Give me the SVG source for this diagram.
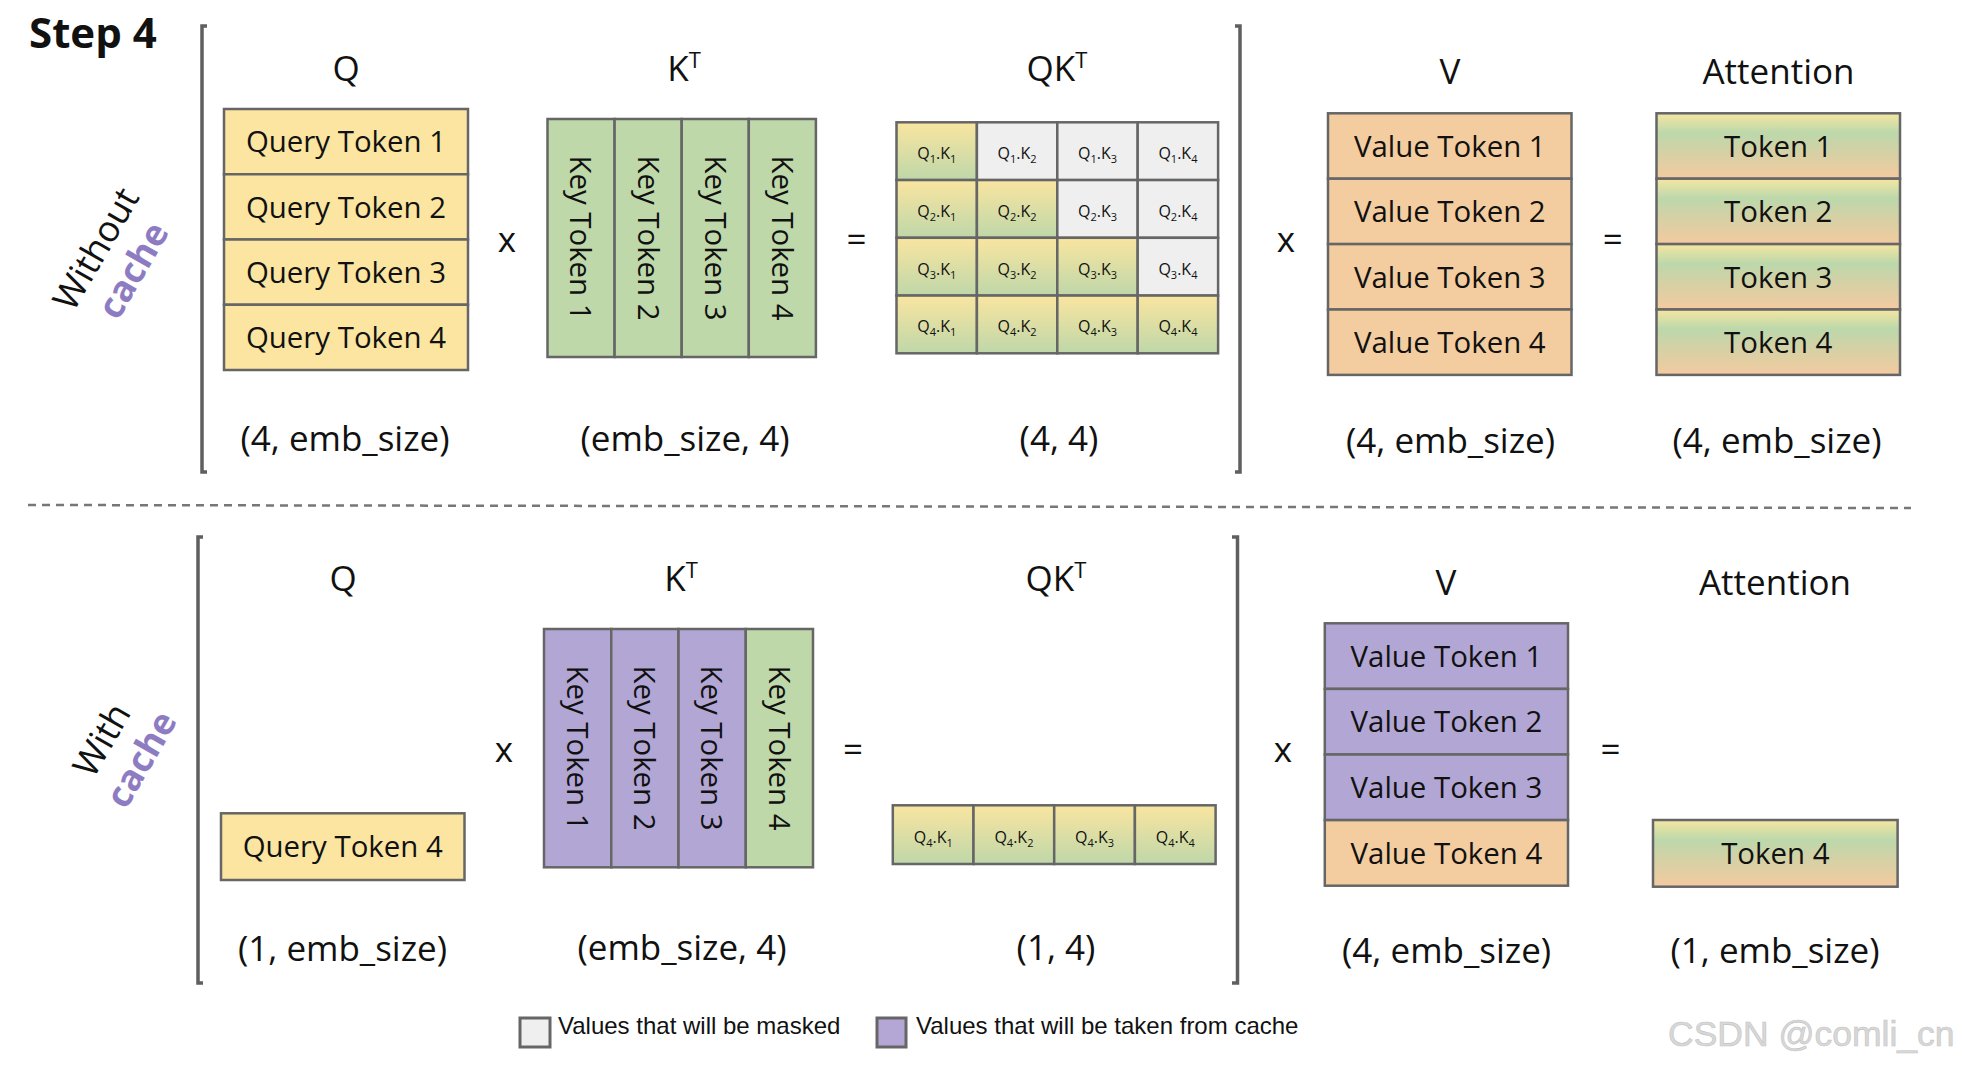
<svg xmlns="http://www.w3.org/2000/svg" width="1962" height="1070" viewBox="0 0 1962 1070">
<defs>
<linearGradient id="gQK" x1="0" y1="0" x2="0" y2="1"><stop offset="0" stop-color="#f9e5a0"/><stop offset="1" stop-color="#bfd7a9"/></linearGradient>
<linearGradient id="gAtt" x1="0" y1="0" x2="0" y2="1"><stop offset="0" stop-color="#f5e6a2"/><stop offset="0.3" stop-color="#bcd8ab"/><stop offset="0.6" stop-color="#d5d1a5"/><stop offset="1" stop-color="#f4caa0"/></linearGradient>
<style>
.box{stroke:#666;stroke-width:2.5}
.q{fill:#fbe5a1}.k{fill:#bfd8aa}.v{fill:#f3cda0}.p{fill:#b2a6d4}.m{fill:#efefef}.g{fill:url(#gQK)}.a{fill:url(#gAtt)}
text{font-family:"Open Sans","Noto Sans",sans-serif;fill:#111}
.lbl{font-size:35px;text-anchor:middle}
.sup{font-size:22px}
.tok{font-size:29.4px;text-anchor:middle}
.cell{font-size:16px;text-anchor:middle}
.sub{font-size:11px}
.side{font-size:36px;text-anchor:middle}
.cache{font-size:36px;font-weight:bold;fill:#8e7cc3;text-anchor:middle}
.leg{font-family:"Liberation Sans",Arial,sans-serif;font-size:24px;fill:#111}
.br{fill:none;stroke:#5f5f5f;stroke-width:3.5}
</style>
</defs>
<rect width="1962" height="1070" fill="#fff"/>

<text x="29" y="48" style="font-size:42px;font-weight:bold">Step 4</text>

<g id="separators">
<path class="br" d="M207,26 H202 V472 H207"/>
<path class="br" d="M1235,26 H1240 V472 H1235"/>
<path class="br" d="M203,537 H198 V983 H203"/>
<path class="br" d="M1232,537 H1237.5 V983 H1232"/>
<path d="M28,505 L1911,508" stroke="#777" stroke-width="2.5" stroke-dasharray="8 6" fill="none"/>
</g>

<g id="label-without">
<text class="side" transform="translate(106.8,255) rotate(-60)">Without</text>
<text class="cache" transform="translate(144,276.5) rotate(-60)">cache</text>
</g>
<g id="label-with">
<text class="side" transform="translate(112.6,746) rotate(-60)">With</text>
<text class="cache" transform="translate(152,765.5) rotate(-60)">cache</text>
</g>

<!-- TOP ROW -->
<g id="top-Q">
<text class="lbl" x="346" y="81">Q</text>
<rect class="box q" x="224" y="109" width="244" height="65.25"/>
<rect class="box q" x="224" y="174.25" width="244" height="65.25"/>
<rect class="box q" x="224" y="239.5" width="244" height="65.25"/>
<rect class="box q" x="224" y="304.75" width="244" height="65.25"/>
<text class="tok" x="346" y="152.3">Query Token 1</text>
<text class="tok" x="346" y="217.6">Query Token 2</text>
<text class="tok" x="346" y="282.8">Query Token 3</text>
<text class="tok" x="346" y="348.1">Query Token 4</text>
<text class="lbl" x="345" y="451">(4, emb_size)</text>
</g>
<text id="top-times1" class="lbl" x="507" y="252">x</text>
<g id="top-K">
<text class="lbl" x="684" y="81">K<tspan class="sup" dy="-13">T</tspan></text>
<rect class="box k" x="547.5" y="119" width="67.1" height="238"/>
<rect class="box k" x="614.6" y="119" width="67.1" height="238"/>
<rect class="box k" x="681.7" y="119" width="67.1" height="238"/>
<rect class="box k" x="748.8" y="119" width="67.1" height="238"/>
<text class="tok" transform="translate(570.3,238) rotate(90)">Key Token 1</text>
<text class="tok" transform="translate(637.5,238) rotate(90)">Key Token 2</text>
<text class="tok" transform="translate(704.6,238) rotate(90)">Key Token 3</text>
<text class="tok" transform="translate(771.7,238) rotate(90)">Key Token 4</text>
<text class="lbl" x="685" y="451">(emb_size, 4)</text>
</g>
<text id="top-eq1" class="lbl" x="856.5" y="252">=</text>
<g id="top-QK">
<text class="lbl" x="1057" y="81">QK<tspan class="sup" dy="-13">T</tspan></text>
<rect class="box g" x="896.5" y="122.3" width="80.4" height="57.75"/>
<rect class="box m" x="976.9" y="122.3" width="80.4" height="57.75"/>
<rect class="box m" x="1057.3" y="122.3" width="80.4" height="57.75"/>
<rect class="box m" x="1137.7" y="122.3" width="80.4" height="57.75"/>
<rect class="box g" x="896.5" y="180.05" width="80.4" height="57.75"/>
<rect class="box g" x="976.9" y="180.05" width="80.4" height="57.75"/>
<rect class="box m" x="1057.3" y="180.05" width="80.4" height="57.75"/>
<rect class="box m" x="1137.7" y="180.05" width="80.4" height="57.75"/>
<rect class="box g" x="896.5" y="237.8" width="80.4" height="57.75"/>
<rect class="box g" x="976.9" y="237.8" width="80.4" height="57.75"/>
<rect class="box g" x="1057.3" y="237.8" width="80.4" height="57.75"/>
<rect class="box m" x="1137.7" y="237.8" width="80.4" height="57.75"/>
<rect class="box g" x="896.5" y="295.55" width="80.4" height="57.75"/>
<rect class="box g" x="976.9" y="295.55" width="80.4" height="57.75"/>
<rect class="box g" x="1057.3" y="295.55" width="80.4" height="57.75"/>
<rect class="box g" x="1137.7" y="295.55" width="80.4" height="57.75"/>
<text class="cell" x="936.7" y="159.2">Q<tspan class="sub" dy="4">1</tspan><tspan dy="-4">.K</tspan><tspan class="sub" dy="4">1</tspan></text>
<text class="cell" x="1017.1" y="159.2">Q<tspan class="sub" dy="4">1</tspan><tspan dy="-4">.K</tspan><tspan class="sub" dy="4">2</tspan></text>
<text class="cell" x="1097.5" y="159.2">Q<tspan class="sub" dy="4">1</tspan><tspan dy="-4">.K</tspan><tspan class="sub" dy="4">3</tspan></text>
<text class="cell" x="1177.9" y="159.2">Q<tspan class="sub" dy="4">1</tspan><tspan dy="-4">.K</tspan><tspan class="sub" dy="4">4</tspan></text>
<text class="cell" x="936.7" y="216.9">Q<tspan class="sub" dy="4">2</tspan><tspan dy="-4">.K</tspan><tspan class="sub" dy="4">1</tspan></text>
<text class="cell" x="1017.1" y="216.9">Q<tspan class="sub" dy="4">2</tspan><tspan dy="-4">.K</tspan><tspan class="sub" dy="4">2</tspan></text>
<text class="cell" x="1097.5" y="216.9">Q<tspan class="sub" dy="4">2</tspan><tspan dy="-4">.K</tspan><tspan class="sub" dy="4">3</tspan></text>
<text class="cell" x="1177.9" y="216.9">Q<tspan class="sub" dy="4">2</tspan><tspan dy="-4">.K</tspan><tspan class="sub" dy="4">4</tspan></text>
<text class="cell" x="936.7" y="274.7">Q<tspan class="sub" dy="4">3</tspan><tspan dy="-4">.K</tspan><tspan class="sub" dy="4">1</tspan></text>
<text class="cell" x="1017.1" y="274.7">Q<tspan class="sub" dy="4">3</tspan><tspan dy="-4">.K</tspan><tspan class="sub" dy="4">2</tspan></text>
<text class="cell" x="1097.5" y="274.7">Q<tspan class="sub" dy="4">3</tspan><tspan dy="-4">.K</tspan><tspan class="sub" dy="4">3</tspan></text>
<text class="cell" x="1177.9" y="274.7">Q<tspan class="sub" dy="4">3</tspan><tspan dy="-4">.K</tspan><tspan class="sub" dy="4">4</tspan></text>
<text class="cell" x="936.7" y="332.4">Q<tspan class="sub" dy="4">4</tspan><tspan dy="-4">.K</tspan><tspan class="sub" dy="4">1</tspan></text>
<text class="cell" x="1017.1" y="332.4">Q<tspan class="sub" dy="4">4</tspan><tspan dy="-4">.K</tspan><tspan class="sub" dy="4">2</tspan></text>
<text class="cell" x="1097.5" y="332.4">Q<tspan class="sub" dy="4">4</tspan><tspan dy="-4">.K</tspan><tspan class="sub" dy="4">3</tspan></text>
<text class="cell" x="1177.9" y="332.4">Q<tspan class="sub" dy="4">4</tspan><tspan dy="-4">.K</tspan><tspan class="sub" dy="4">4</tspan></text>
<text class="lbl" x="1059" y="451">(4, 4)</text>
</g>
<text id="top-times2" class="lbl" x="1286" y="252">x</text>
<g id="top-V">
<text class="lbl" x="1450" y="84">V</text>
<rect class="box v" x="1328" y="113.3" width="243.5" height="65.4"/>
<rect class="box v" x="1328" y="178.7" width="243.5" height="65.4"/>
<rect class="box v" x="1328" y="244.1" width="243.5" height="65.4"/>
<rect class="box v" x="1328" y="309.5" width="243.5" height="65.4"/>
<text class="tok" x="1449.75" y="156.7">Value Token 1</text>
<text class="tok" x="1449.75" y="222.1">Value Token 2</text>
<text class="tok" x="1449.75" y="287.5">Value Token 3</text>
<text class="tok" x="1449.75" y="352.9">Value Token 4</text>
<text class="lbl" x="1450.5" y="453">(4, emb_size)</text>
</g>
<text id="top-eq2" class="lbl" x="1612.8" y="252">=</text>
<g id="top-Att">
<text class="lbl" x="1778.5" y="84">Attention</text>
<rect class="box a" x="1656.5" y="113.3" width="243.5" height="65.4"/>
<rect class="box a" x="1656.5" y="178.7" width="243.5" height="65.4"/>
<rect class="box a" x="1656.5" y="244.1" width="243.5" height="65.4"/>
<rect class="box a" x="1656.5" y="309.5" width="243.5" height="65.4"/>
<text class="tok" x="1778.25" y="156.7">Token 1</text>
<text class="tok" x="1778.25" y="222.1">Token 2</text>
<text class="tok" x="1778.25" y="287.5">Token 3</text>
<text class="tok" x="1778.25" y="352.9">Token 4</text>
<text class="lbl" x="1777" y="453">(4, emb_size)</text>
</g>

<!-- BOTTOM ROW -->
<g id="bot-Q">
<text class="lbl" x="343" y="591">Q</text>
<rect class="box q" x="221" y="813.3" width="243.5" height="66.7"/>
<text class="tok" x="342.75" y="857.2">Query Token 4</text>
<text class="lbl" x="342.5" y="961">(1, emb_size)</text>
</g>
<text id="bot-times1" class="lbl" x="503.8" y="762">x</text>
<g id="bot-K">
<text class="lbl" x="681" y="591">K<tspan class="sup" dy="-13">T</tspan></text>
<rect class="box p" x="544" y="629" width="67.25" height="238.3"/>
<rect class="box p" x="611.25" y="629" width="67.25" height="238.3"/>
<rect class="box p" x="678.5" y="629" width="67.25" height="238.3"/>
<rect class="box k" x="745.75" y="629" width="67.25" height="238.3"/>
<text class="tok" transform="translate(566.9,748) rotate(90)">Key Token 1</text>
<text class="tok" transform="translate(634.2,748) rotate(90)">Key Token 2</text>
<text class="tok" transform="translate(701.4,748) rotate(90)">Key Token 3</text>
<text class="tok" transform="translate(768.7,748) rotate(90)">Key Token 4</text>
<text class="lbl" x="682" y="960">(emb_size, 4)</text>
</g>
<text id="bot-eq1" class="lbl" x="853" y="762">=</text>
<g id="bot-QK">
<text class="lbl" x="1056" y="591">QK<tspan class="sup" dy="-13">T</tspan></text>
<rect class="box g" x="892.8" y="805.3" width="80.7" height="58.7"/>
<rect class="box g" x="973.5" y="805.3" width="80.7" height="58.7"/>
<rect class="box g" x="1054.2" y="805.3" width="80.7" height="58.7"/>
<rect class="box g" x="1134.9" y="805.3" width="80.7" height="58.7"/>
<text class="cell" x="933.2" y="842.6">Q<tspan class="sub" dy="4">4</tspan><tspan dy="-4">.K</tspan><tspan class="sub" dy="4">1</tspan></text>
<text class="cell" x="1013.9" y="842.6">Q<tspan class="sub" dy="4">4</tspan><tspan dy="-4">.K</tspan><tspan class="sub" dy="4">2</tspan></text>
<text class="cell" x="1094.6" y="842.6">Q<tspan class="sub" dy="4">4</tspan><tspan dy="-4">.K</tspan><tspan class="sub" dy="4">3</tspan></text>
<text class="cell" x="1175.3" y="842.6">Q<tspan class="sub" dy="4">4</tspan><tspan dy="-4">.K</tspan><tspan class="sub" dy="4">4</tspan></text>
<text class="lbl" x="1056" y="960">(1, 4)</text>
</g>
<text id="bot-times2" class="lbl" x="1282.8" y="762">x</text>
<g id="bot-V">
<text class="lbl" x="1446" y="595">V</text>
<rect class="box p" x="1324.8" y="623.3" width="243.2" height="65.6"/>
<rect class="box p" x="1324.8" y="688.9" width="243.2" height="65.6"/>
<rect class="box p" x="1324.8" y="754.5" width="243.2" height="65.6"/>
<rect class="box v" x="1324.8" y="820.1" width="243.2" height="65.6"/>
<text class="tok" x="1446.4" y="666.8">Value Token 1</text>
<text class="tok" x="1446.4" y="732.4">Value Token 2</text>
<text class="tok" x="1446.4" y="798">Value Token 3</text>
<text class="tok" x="1446.4" y="863.6">Value Token 4</text>
<text class="lbl" x="1446.6" y="963">(4, emb_size)</text>
</g>
<text id="bot-eq2" class="lbl" x="1610.5" y="762">=</text>
<g id="bot-Att">
<text class="lbl" x="1775" y="595">Attention</text>
<rect class="box a" x="1653" y="820" width="244.6" height="66.7"/>
<text class="tok" x="1775.3" y="864">Token 4</text>
<text class="lbl" x="1775" y="963">(1, emb_size)</text>
</g>

<g id="legend">
<rect x="520" y="1018" width="30" height="29" fill="#efefef" stroke="#666" stroke-width="3"/>
<text class="leg" x="558" y="1033.5">Values that will be masked</text>
<rect x="877" y="1018" width="29" height="29" fill="#b4a7d6" stroke="#666" stroke-width="3"/>
<text class="leg" x="916" y="1033.5">Values that will be taken from cache</text>
</g>

<text x="1668" y="1046" style="font-family:'Liberation Sans',Arial,sans-serif;font-size:35.5px;fill:#d8d8d8;stroke:#c4c4c4;stroke-width:0.6">CSDN @comli_cn</text>
</svg>
